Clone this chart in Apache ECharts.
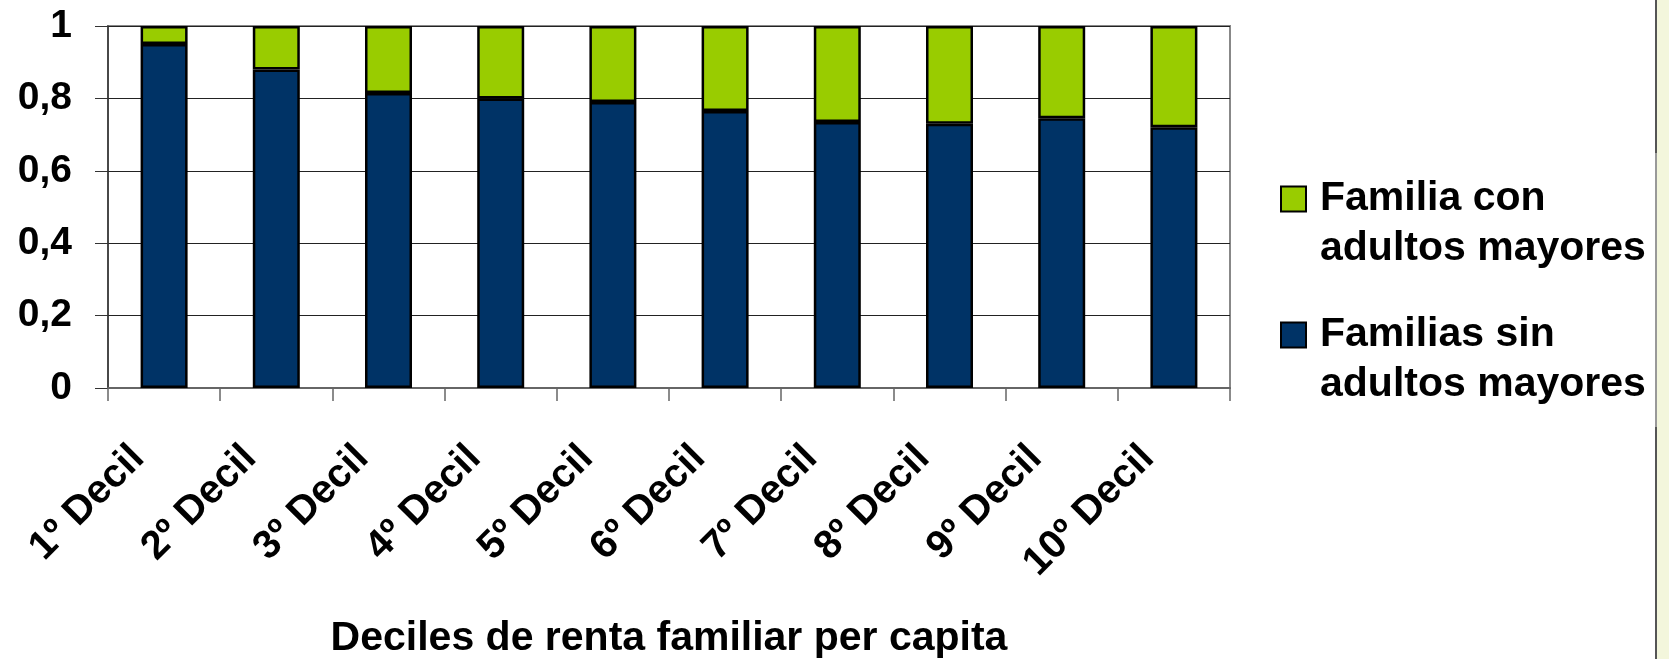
<!DOCTYPE html>
<html><head><meta charset="utf-8">
<script src="https://cdn.jsdelivr.net/npm/echarts@6/dist/echarts.min.js"></script>
<style>html,body{margin:0;padding:0;background:#fff}#c{width:1669px;height:659px}</style>
</head><body><div id="c"></div>
<script>
const categories = ['1º Decil','2º Decil','3º Decil','4º Decil','5º Decil','6º Decil','7º Decil','8º Decil','9º Decil','10º Decil'];
const seriesNames = ['Familias sin\nadultos mayores', 'Familia con\nadultos mayores'];
const sinAdultos = [0.95, 0.88, 0.815, 0.80, 0.79, 0.765, 0.735, 0.73, 0.745, 0.72];
const conAdultos = [0.05, 0.12, 0.185, 0.20, 0.21, 0.235, 0.265, 0.27, 0.255, 0.28];
const yTickLabels = ['0', '0,2', '0,4', '0,6', '0,8', '1'];
const xAxisTitle = 'Deciles de renta familiar per capita';

const FONT = '"Liberation Sans", Arial, sans-serif';
const chart = echarts.init(document.getElementById('c'), null, {renderer: 'canvas'});
chart.setOption({
  animation: false,
  backgroundColor: '#ffffff',
  grid: {left: 108, right: 439, top: 26, bottom: 271, containLabel: false, outerBoundsMode: 'none',
         show: true, borderColor: '#888', borderWidth: 2, backgroundColor: 'transparent'},
  legend: {
    orient: 'vertical', left: 1280, top: 124, padding: 0,
    itemWidth: 25, itemHeight: 25, itemGap: -14,
    data: [seriesNames[1], seriesNames[0]],
    icon: 'rect',
    formatter: name => '\n' + name,
    textStyle: {fontFamily: FONT, fontWeight: 'bold', fontSize: 41, color: '#000', lineHeight: 50, padding: [0, 0, 0, 9]}
  },
  xAxis: {
    type: 'category', data: categories,
    name: xAxisTitle, nameLocation: 'middle', nameGap: 230,
    nameTextStyle: {fontFamily: FONT, fontWeight: 'bold', fontSize: 41, color: '#000'},
    axisLine: {lineStyle: {color: '#666', width: 2}},
    axisTick: {show: true, length: 13, lineStyle: {color: '#666', width: 1.5}},
    axisLabel: {rotate: 45, margin: 38, padding: [0, 37, 0, 0], fontFamily: FONT, fontWeight: 'bold', fontSize: 40, color: '#000', interval: 0}
  },
  yAxis: {
    type: 'value', min: 0, max: 1, interval: 0.2,
    axisLine: {show: true, lineStyle: {color: '#333', width: 1.5}},
    axisTick: {show: true, length: 13, lineStyle: {color: '#333', width: 1}},
    splitLine: {show: true, lineStyle: {color: '#222', width: 1}},
    axisLabel: {margin: 36, fontFamily: FONT, fontWeight: 'bold', fontSize: 39, color: '#000',
      formatter: (v, i) => yTickLabels[i]}
  },
  series: [
    {name: seriesNames[0], type: 'bar', stack: 'total', data: sinAdultos, barWidth: 47,
     itemStyle: {color: '#003366', borderColor: '#000', borderWidth: 2.5}},
    {name: seriesNames[1], type: 'bar', stack: 'total', data: conAdultos, barWidth: 47,
     itemStyle: {color: '#99CC00', borderColor: '#000', borderWidth: 2.5}}
  ],
  graphic: [
    {type: 'rect', shape: {x: 1657, y: 0, width: 12, height: 659}, style: {fill: '#F3F6DC'}, silent: true},
    {type: 'line', shape: {x1: 1656, y1: 0, x2: 1656, y2: 153}, style: {stroke: '#555', lineWidth: 2}, silent: true},
    {type: 'line', shape: {x1: 1656, y1: 153, x2: 1656, y2: 427}, style: {stroke: '#999', lineWidth: 2}, silent: true},
    {type: 'line', shape: {x1: 1656, y1: 427, x2: 1656, y2: 659}, style: {stroke: '#555', lineWidth: 2}, silent: true}
  ]
});
</script></body></html>
